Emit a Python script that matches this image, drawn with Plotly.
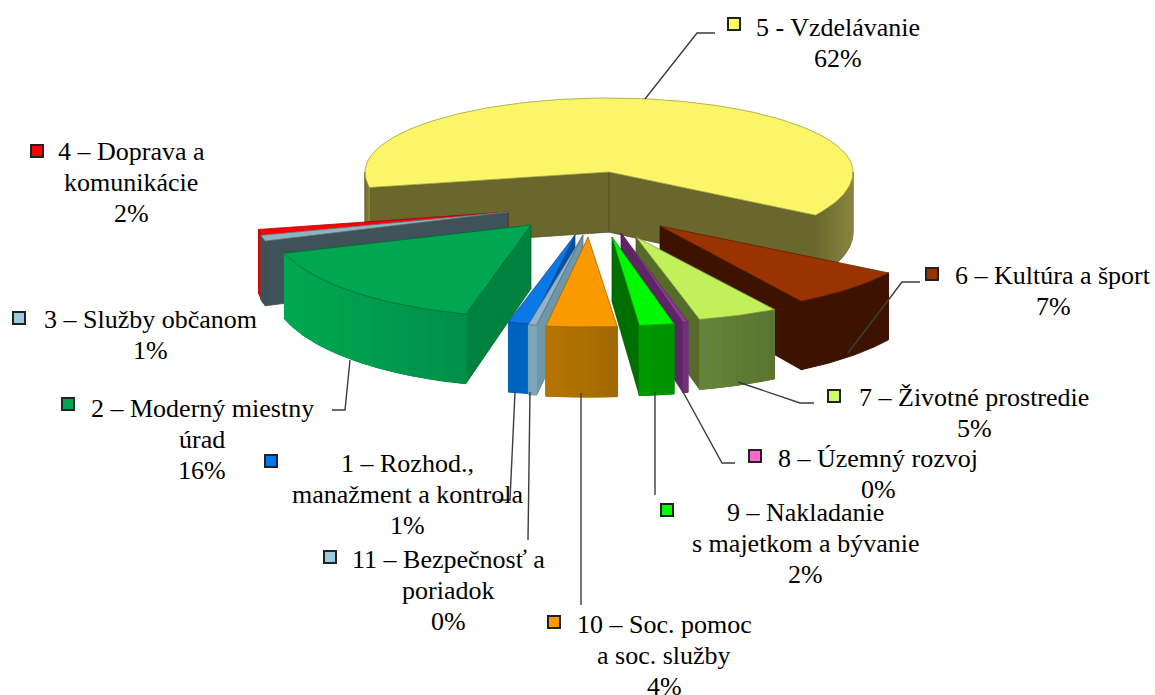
import math
import plotly.graph_objects as go

# ---- data (drawing order: clockwise from 5 - Vzdelávanie) ----
names = ["5 - Vzdelávanie", "6 – Kultúra a šport", "7 – Životné prostredie", "8 – Územný rozvoj",
         "9 – Nakladanie<br>s majetkom a bývanie", "10 – Soc. pomoc<br>a soc. služby",
         "11 – Bezpečnosť a<br>poriadok", "1 – Rozhod.,<br>manažment a kontrola",
         "2 – Moderný miestny<br>úrad", "3 – Služby občanom", "4 – Doprava a<br>komunikácie"]
percent_labels = ["62%", "7%", "5%", "0%", "2%", "4%", "0%", "1%", "16%", "1%", "2%"]
values = [62.0, 7.3, 4.9, 0.3, 2.0, 3.8, 0.4, 1.4, 16.0, 1.0, 1.3]

# ---- styling / layout ----
W, H = 1155, 695
START = 169.0
apex = [(609, 172), (660, 226), (636, 237), (621, 233), (612, 237), (588, 237),
        (583, 235), (575, 235), (531, 225), (508, 212), (508, 212)]
rx_list = [244, 270, 265, 280, 280, 300, 330, 265, 259, 255, 253]
ry_list = [81, 88, 85, 92, 89, 90, 91, 90, 92, 95, 105]
RY_BACK = 74
top_col = ["#fbf667", "#993300", "#c2f05a", "#8e3a94", "#00f800", "#f99a00",
           "#8fb4c8", "#0a78e6", "#00a651", "#8fb4c0", "#ff0000"]
wall_a = ["#6a672d", "#3d1300", "#66853a", "#73307a", "#009a00", "#b87400",
          "#7da5b8", "#0062c0", "#00a852", "#3f5159", "#e00000"]
wall_b = ["#86853f", "#3d1300", "#5a7430", "#73307a", "#009000", "#a06a00",
          "#7da5b8", "#0062c0", "#008f48", "#3f5159", "#e00000"]
radial = ["#6a672d", "#3d1300", "#566b2a", "#5e2665", "#006f00", "#8a5a00",
          "#6f97aa", "#0050a0", "#00823f", "#3f5159", "#c00000"]
draw_order = [0, 10, 9, 8, 1, 2, 3, 4, 7, 6, 5]
key_x = [734, 932, 834, 755, 667, 554, 330, 271, 68, 19, 37]
key_y = [24, 274, 396, 456, 510, 622, 557, 461, 404, 318, 151]
key_col = ["#ffff66", "#993300", "#ccff66", "#ff66cc", "#00ff00", "#ff9900",
           "#99ccdd", "#0077ee", "#00a651", "#99ccdd", "#ff0000"]
label_x = [838, 1053, 974, 878, 805, 664, 448, 407, 202, 150, 131]
label_y = [27, 275, 397, 458, 512, 624, 559, 463, 408, 319, 151]
LINE_H = 31
leaders = [([645, 697, 715], [99, 33, 33]), ([848, 902, 920], [353, 282, 282]),
           ([738, 800, 814], [382, 403, 403]), ([682, 722, 735], [390, 463, 463]),
           ([655, 655], [392, 495]), ([581, 581], [393, 605]), ([530, 528], [392, 540]),
           ([515, 510, 497], [392, 500, 500]), ([350, 345, 332], [360, 410, 410])]


def mix(a, b, f):
    ca = [int(a[i:i + 2], 16) for i in (1, 3, 5)]
    cb = [int(b[i:i + 2], 16) for i in (1, 3, 5)]
    return "#%02x%02x%02x" % tuple(round(p + (q - p) * f) for p, q in zip(ca, cb))


def depth(y):
    return 60 + 10 * min(1, max(0, (y - 170) / 150))


def pt(i, t):
    r = math.radians(t)
    s = math.sin(r)
    return (apex[i][0] + rx_list[i] * math.cos(r),
            apex[i][1] + (ry_list[i] if s > 0 else RY_BACK) * s)


def below(p):
    return (p[0], p[1] + depth(p[1]))


fig = go.Figure()


def poly(points, color, line=None, width=0.7):
    xs = [p[0] for p in points] + [points[0][0]]
    ys = [p[1] for p in points] + [points[0][1]]
    fig.add_trace(go.Scatter(x=xs, y=ys, mode="lines", fill="toself", fillcolor=color,
                             line=dict(color=line or color, width=width),
                             hoverinfo="skip", showlegend=False))


# angles from values; the first slice runs over the back past 360 degrees
starts, ends = [], []
t = START
for v in values:
    if t >= 360:
        t -= 360
    starts.append(t)
    t += v * 3.6
    ends.append(t)

for i in draw_order:
    t0, t1 = starts[i], ends[i]
    a = apex[i]
    walls = []
    if 90 < t0 < 180:
        walls.append(t0)
    if t1 % 360 < 90:
        walls.append(t1)
    for w in walls:
        p = pt(i, w)
        poly([a, p, below(p), below(a)], radial[i], line=mix(radial[i], "#000000", 0.25))
    # outer wall: one solid underlay, then colour bands for the shading
    ranges = []
    if t0 < 180:
        ranges.append((t0, min(t1, 180)))
    if t1 > 360:
        ranges.append((360, t1))
    for lo, hi in ranges:
        n = max(1, int((hi - lo) / 0.75))
        us = [lo + (hi - lo) * k / n for k in range(n + 1)]
        edge = [pt(i, u) for u in us]
        poly(edge + [below(p) for p in reversed(edge)], wall_a[i], width=1)
        if wall_a[i] == wall_b[i]:
            continue
        x_lo, x_hi = sorted((edge[0][0], edge[-1][0]))
        bands = 10
        groups = {}
        for p0, p1 in zip(edge, edge[1:]):
            mid = (p0[0] + p1[0]) / 2
            b = min(bands - 1, int((mid - x_lo) / max(1, x_hi - x_lo) * bands))
            groups.setdefault(b, []).append((p0, p1))
        for b, segs in sorted(groups.items()):
            part = [segs[0][0]] + [s[1] for s in segs]
            col = mix(wall_a[i], wall_b[i], (b + 0.5) / bands)
            poly(part + [below(p) for p in reversed(part)], col, width=1)
    # top face
    n = max(2, int((t1 - t0) / 1.5))
    arc = [pt(i, t0 + (t1 - t0) * k / n) for k in range(n + 1)]
    poly([a] + arc, top_col[i], line=mix(top_col[i], "#000000", 0.35), width=0.8)

# leader lines
for lx, ly in leaders:
    fig.add_trace(go.Scatter(x=lx, y=ly, mode="lines", line=dict(color="#3c3c3c", width=1.4),
                             hoverinfo="skip", showlegend=False))

# legend keys
fig.add_trace(go.Scatter(x=key_x, y=key_y, mode="markers",
                         marker=dict(symbol="square", size=12, color=key_col,
                                     line=dict(color="#222222", width=2)),
                         hoverinfo="skip", showlegend=False))

for name, pct, x, y in zip(names, percent_labels, label_x, label_y):
    for k, line in enumerate(name.split("<br>") + [pct]):
        fig.add_annotation(x=x, y=y + k * LINE_H, text=line, showarrow=False, align="center",
                           xanchor="center", yanchor="middle",
                           font=dict(family="Liberation Serif", size=26, color="#000000"))

fig.update_layout(width=W, height=H, margin=dict(l=0, r=0, t=0, b=0),
                  paper_bgcolor="white", plot_bgcolor="white",
                  xaxis=dict(range=[0, W], visible=False, fixedrange=True),
                  yaxis=dict(range=[H, 0], visible=False, fixedrange=True))
fig.write_html("out.html", config={"displayModeBar": False},
               post_script="document.body.style.margin='0';document.documentElement.style.overflow='hidden';")
